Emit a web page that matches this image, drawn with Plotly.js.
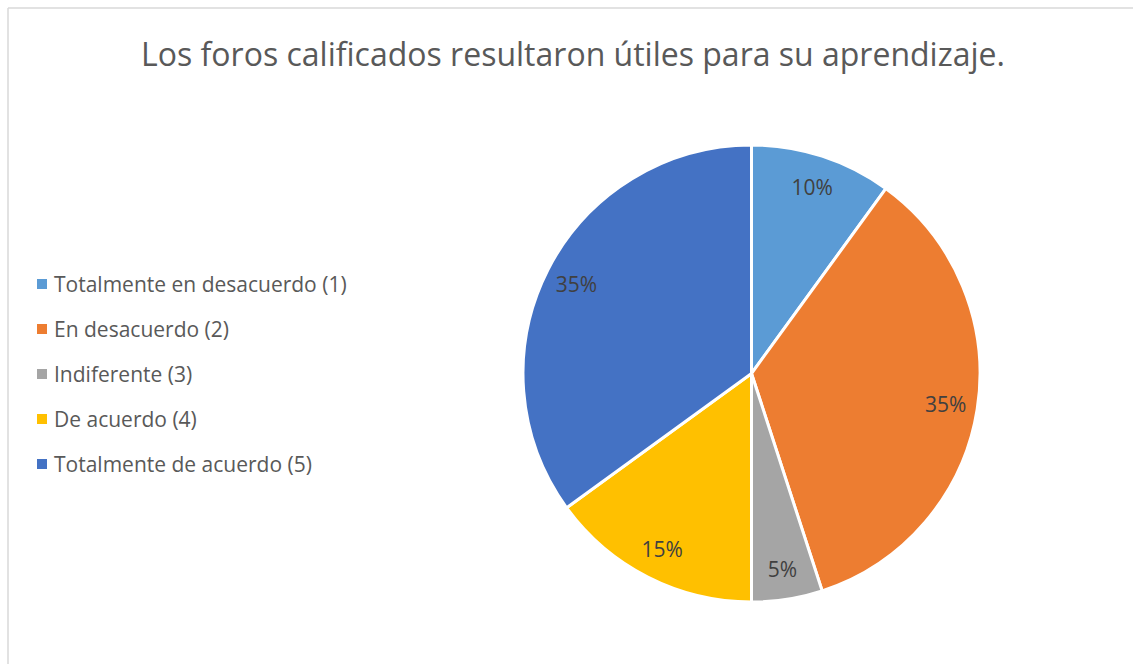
<!DOCTYPE html>
<html>
<head>
<meta charset="utf-8">
<script src="https://cdn.plot.ly/plotly-3.0.1.min.js"></script>
<style>html,body{margin:0;padding:0;background:#fff;}#chart{width:1133px;height:664px;}</style>
</head>
<body>
<div id="chart"></div>
<script>
const chartTitle = "Los foros calificados resultaron útiles para su aprendizaje.";
const categories = ["Totalmente en desacuerdo (1)", "En desacuerdo (2)", "Indiferente (3)", "De acuerdo (4)", "Totalmente de acuerdo (5)"];
const values = [10, 35, 5, 15, 35];
const colors = ["#5B9BD5", "#ED7D31", "#A5A5A5", "#FFC000", "#4472C4"];

const W = 1133, H = 664;
const FONT = "Open Sans, Lato, sans-serif";

const annotations = [];
const shapes = [
  {type: "line", xref: "paper", yref: "paper", x0: 8/W, x1: 8/W, y0: 0, y1: 1 - 8/H, line: {color: "#D9D9D9", width: 1.5}},
  {type: "line", xref: "paper", yref: "paper", x0: 8/W, x1: 1, y0: 1 - 8/H, y1: 1 - 8/H, line: {color: "#D9D9D9", width: 1.5}}
];
const legX = 37, legY0 = 284, legGap = 45, sq = 10;
categories.forEach((c, i) => {
  const cy = legY0 + i * legGap;
  shapes.push({type: "rect", xref: "paper", yref: "paper",
    x0: legX / W, x1: (legX + sq) / W, y0: 1 - (cy + sq/2) / H, y1: 1 - (cy - sq/2) / H,
    fillcolor: colors[i], line: {width: 0}});
  annotations.push({text: c, xref: "paper", yref: "paper", x: (legX + sq + 5) / W, y: 1 - cy / H,
    xanchor: "left", yanchor: "middle", showarrow: false,
    font: {family: FONT, size: 21, color: "#595959"}});
});

const dom = {x: [523/W, 980/W], y: [(H-602)/H, (H-145)/H]};
const data = [{
  type: "pie",
  labels: categories,
  values: values,
  marker: {colors: colors, line: {color: "#FFFFFF", width: 3}},
  sort: false,
  direction: "clockwise",
  rotation: 0,
  textinfo: "none",
  hoverinfo: "label+percent",
  showlegend: false,
  domain: dom
}, {
  type: "pie",
  labels: categories,
  values: values,
  hole: 0.72,
  marker: {colors: categories.map(() => "rgba(0,0,0,0)"), line: {width: 0}},
  sort: false,
  direction: "clockwise",
  rotation: 0,
  texttemplate: "%{percent:.0%}",
  textposition: "inside",
  insidetextorientation: "horizontal",
  textfont: {family: FONT, size: 21, color: "#404040"},
  hoverinfo: "skip",
  showlegend: false,
  domain: dom
}];

const layout = {
  width: W, height: H,
  margin: {l: 0, r: 0, t: 0, b: 0},
  paper_bgcolor: "#FFFFFF",
  title: {text: chartTitle, x: 573/W, xanchor: "center", y: 1 - 55/H, yanchor: "middle",
    font: {family: FONT, size: 32, color: "#595959"}},
  shapes: shapes,
  annotations: annotations,
  showlegend: false
};

Plotly.newPlot("chart", data, layout, {displayModeBar: false, staticPlot: true});
</script>
</body>
</html>
